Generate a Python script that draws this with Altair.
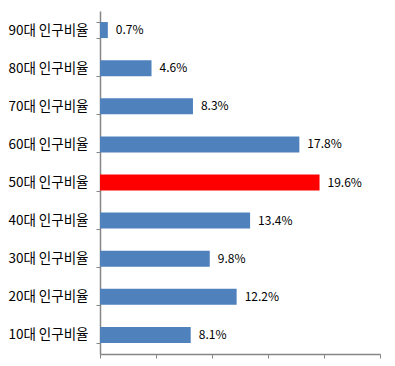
import altair as alt
import pandas as pd

categories = ["90대 인구비율", "80대 인구비율", "70대 인구비율", "60대 인구비율", "50대 인구비율",
              "40대 인구비율", "30대 인구비율", "20대 인구비율", "10대 인구비율"]
values = [0.7, 4.6, 8.3, 17.8, 19.6, 13.4, 9.8, 12.2, 8.1]
colors = ["#4F81BD", "#4F81BD", "#4F81BD", "#4F81BD", "#FF0000",
          "#4F81BD", "#4F81BD", "#4F81BD", "#4F81BD"]

df = pd.DataFrame({
    "cat": categories,
    "val": values,
    "color": colors,
    "label": [f"{v:.1f}%" for v in values],
})

FONT = "Noto Sans CJK KR"

y = alt.Y("cat:N", sort=categories, title=None,
          scale=alt.Scale(paddingInner=0.58, paddingOuter=0.29),
          axis=alt.Axis(tickBand="extent", domainColor="#868686", tickColor="#868686",
                        tickSize=4, labelPadding=8, labelFont=FONT, labelFontSize=13.5,
                        labelColor="#000000", domainWidth=1.5))

x = alt.X("val:Q", title=None,
          scale=alt.Scale(domain=[0, 25], nice=False),
          axis=alt.Axis(values=[0, 5, 10, 15, 20, 25], labels=False, grid=False,
                        domainColor="#868686", tickColor="#868686", tickSize=4,
                        domainWidth=1.5))

bars = alt.Chart(df).mark_bar().encode(
    x=x, y=y, color=alt.Color("color:N", scale=None)
)

text = alt.Chart(df).mark_text(align="left", baseline="middle", dx=8,
                               font=FONT, fontSize=12, color="#000000").encode(
    x="val:Q", y=alt.Y("cat:N", sort=categories), text="label:N"
)

chart = (bars + text).properties(
    width=280, height=343,
    autosize=alt.AutoSizeParams(type="none"),
    padding={"left": 92, "top": 3, "right": 7, "bottom": 10},
).configure_view(stroke=None)

chart.save("out.html", embed_options={"renderer": "svg", "actions": False})
